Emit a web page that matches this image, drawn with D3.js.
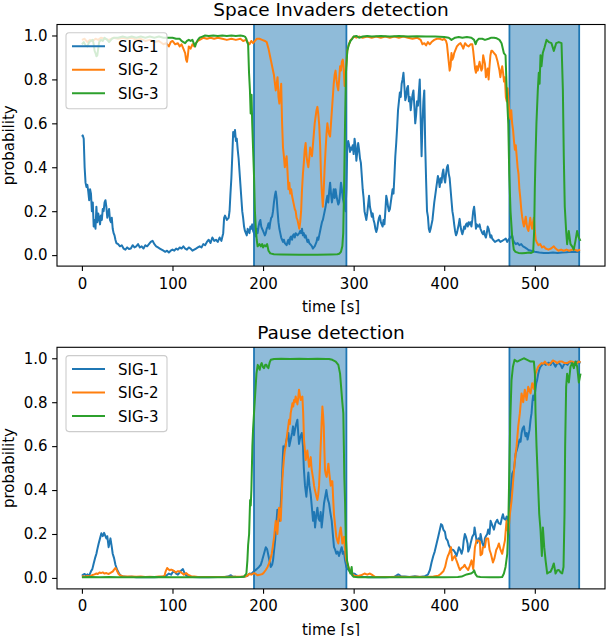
<!DOCTYPE html>
<html>
<head>
<meta charset="utf-8">
<script src="https://cdn.jsdelivr.net/npm/d3@7"></script>
<style>
  body { margin: 0; background: #fff; }
  svg { display: block; font-family: 'DejaVu Sans', sans-serif; }
</style>
</head>
<body>
<div id="chart"></div>
<script>
// values, [time s, probability]
const seriesNames = ["SIG-1", "SIG-2", "SIG-3"];
const panelTitles = ["Space Invaders detection", "Pause detection"];
const xTicks = [0, 100, 200, 300, 400, 500];
const yTicks = [0.0, 0.2, 0.4, 0.6, 0.8, 1.0];
const spans = [[190, 292], [472, 549]];

const siSig1 = [[0,0.54],[1,0.545],[2,0.53],[3,0.40],[4,0.33],[5,0.31],[6,0.32],[7,0.29],[8,0.25],[9,0.30],[10,0.28],[11,0.20],[12,0.24],[13,0.13],[14,0.16],[15,0.12],[16,0.22],[17,0.15],[18,0.19],[19,0.17],[20,0.14],[21,0.18],[22,0.16],[23,0.21],[24,0.20],[25,0.24],[26,0.25],[27,0.22],[28,0.17],[29,0.19],[30,0.21],[31,0.16],[32,0.15],[33,0.17],[34,0.12],[35,0.10],[36,0.09],[37,0.07],[38,0.055],[40,0.05],[42,0.04],[44,0.045],[46,0.03],[48,0.025],[50,0.035],[52,0.028],[54,0.03],[56,0.045],[58,0.035],[60,0.04],[62,0.05],[64,0.035],[66,0.04],[68,0.03],[70,0.045],[72,0.04],[74,0.05],[76,0.06],[78,0.065],[80,0.05],[82,0.04],[84,0.035],[86,0.03],[88,0.025],[90,0.02],[92,0.015],[94,0.02],[96,0.012],[98,0.02],[100,0.025],[102,0.02],[104,0.03],[106,0.025],[108,0.035],[110,0.03],[112,0.04],[114,0.03],[116,0.025],[118,0.035],[120,0.03],[122,0.02],[124,0.025],[126,0.03],[128,0.035],[130,0.04],[132,0.035],[134,0.05],[136,0.045],[138,0.06],[140,0.07],[142,0.055],[144,0.08],[146,0.065],[148,0.07],[150,0.06],[152,0.08],[154,0.065],[156,0.1],[157,0.17],[158,0.18],[160,0.16],[162,0.17],[163,0.2],[164,0.28],[165,0.35],[166,0.45],[167,0.56],[168,0.54],[169,0.57],[170,0.52],[171,0.53],[172,0.48],[173,0.44],[174,0.38],[175,0.32],[176,0.26],[177,0.2],[178,0.17],[179,0.13],[180,0.11],[181,0.1],[182,0.09],[183,0.12],[184,0.11],[185,0.1],[186,0.13],[187,0.12],[188,0.14],[189,0.11],[190,0.1],[191,0.09],[192,0.085],[193,0.12],[194,0.1],[195,0.13],[196,0.15],[197,0.16],[198,0.13],[199,0.12],[200,0.11],[201,0.1],[202,0.09],[203,0.1],[204,0.12],[205,0.13],[206,0.145],[207,0.12],[208,0.15],[209,0.17],[210,0.175],[211,0.2],[212,0.24],[213,0.27],[214,0.29],[215,0.26],[216,0.2],[217,0.15],[218,0.12],[219,0.1],[220,0.08],[221,0.07],[222,0.06],[223,0.07],[224,0.055],[225,0.05],[226,0.045],[227,0.06],[228,0.07],[229,0.05],[230,0.08],[231,0.085],[232,0.07],[233,0.09],[234,0.095],[235,0.08],[236,0.1],[238,0.09],[240,0.1],[241,0.11],[242,0.1],[243,0.12],[244,0.09],[245,0.1],[246,0.08],[247,0.09],[248,0.075],[249,0.06],[250,0.07],[251,0.055],[252,0.05],[253,0.045],[254,0.04],[255,0.03],[256,0.035],[257,0.04],[258,0.05],[259,0.06],[260,0.08],[261,0.07],[262,0.09],[263,0.11],[264,0.13],[265,0.15],[266,0.16],[267,0.18],[268,0.2],[269,0.22],[270,0.25],[271,0.27],[272,0.24],[273,0.29],[274,0.33],[275,0.28],[276,0.24],[277,0.27],[278,0.3],[279,0.26],[280,0.3],[281,0.27],[282,0.25],[283,0.23],[284,0.24],[285,0.28],[286,0.33],[287,0.3],[288,0.26],[289,0.24],[290,0.22],[291,0.2],[292,0.3],[293,0.5],[294,0.52],[295,0.5],[296,0.47],[297,0.49],[298,0.48],[299,0.5],[300,0.46],[301,0.53],[302,0.5],[303,0.43],[304,0.47],[305,0.51],[306,0.48],[307,0.44],[308,0.42],[309,0.36],[310,0.3],[311,0.26],[312,0.2],[313,0.18],[314,0.16],[315,0.19],[316,0.23],[317,0.27],[318,0.22],[319,0.2],[320,0.175],[321,0.19],[322,0.16],[323,0.145],[324,0.12],[325,0.105],[326,0.12],[327,0.15],[328,0.17],[329,0.18],[330,0.15],[331,0.14],[332,0.13],[333,0.16],[334,0.14],[335,0.2],[336,0.27],[337,0.25],[338,0.22],[339,0.2],[340,0.21],[341,0.24],[342,0.27],[343,0.3],[344,0.28],[345,0.36],[346,0.45],[347,0.51],[348,0.58],[349,0.66],[350,0.7],[351,0.74],[352,0.72],[353,0.78],[354,0.8],[355,0.83],[356,0.77],[357,0.705],[358,0.72],[359,0.76],[360,0.77],[361,0.7],[362,0.72],[363,0.66],[364,0.7],[365,0.73],[366,0.75],[367,0.68],[368,0.6],[369,0.64],[370,0.7],[371,0.68],[372,0.74],[373,0.8],[374,0.62],[375,0.45],[376,0.6],[377,0.7],[378,0.75],[379,0.5],[380,0.34],[381,0.2],[382,0.175],[383,0.12],[384,0.105],[385,0.12],[386,0.14],[387,0.16],[388,0.2],[389,0.24],[390,0.27],[391,0.3],[392,0.33],[393,0.36],[394,0.34],[395,0.31],[396,0.35],[397,0.33],[398,0.37],[399,0.39],[400,0.35],[401,0.33],[402,0.37],[403,0.4],[404,0.41],[405,0.37],[406,0.35],[407,0.3],[408,0.25],[409,0.2],[410,0.175],[411,0.14],[412,0.11],[413,0.09],[414,0.1],[415,0.12],[416,0.14],[417,0.165],[418,0.13],[419,0.11],[420,0.095],[421,0.11],[422,0.13],[423,0.12],[424,0.14],[425,0.145],[426,0.13],[427,0.15],[428,0.14],[429,0.15],[430,0.13],[431,0.16],[432,0.2],[433,0.22],[434,0.18],[435,0.12],[436,0.14],[437,0.13],[438,0.13],[439,0.14],[440,0.12],[441,0.11],[442,0.1],[443,0.095],[444,0.11],[445,0.09],[446,0.08],[447,0.1],[448,0.13],[449,0.12],[450,0.1],[451,0.08],[452,0.09],[453,0.075],[454,0.07],[455,0.065],[456,0.06],[458,0.065],[460,0.07],[462,0.06],[464,0.065],[466,0.07],[468,0.075],[469.5,0.06],[471,0.07],[473,0.08],[475,0.09],[476,0.07],[477,0.06],[479,0.05],[481,0.055],[483,0.045],[485,0.05],[487,0.04],[489,0.035],[491,0.03],[493,0.023],[496,0.02],[500,0.015],[505,0.012],[510,0.01],[515,0.01],[520,0.012],[525,0.01],[530,0.012],[535,0.013],[540,0.015],[545,0.014],[550,0.015]];

const siSig2 = [[0,0.98],[3,0.985],[6,0.97],[9,0.98],[12,0.975],[15,0.985],[18,0.98],[21,0.99],[25,0.985],[30,0.98],[35,0.99],[40,0.985],[45,0.99],[50,0.985],[55,0.99],[60,0.98],[65,0.985],[70,0.975],[75,0.98],[80,0.97],[85,0.975],[90,0.96],[93,0.965],[96,0.95],[98,0.97],[100,0.975],[103,0.96],[106,0.965],[108,0.95],[110,0.96],[112,0.94],[114,0.92],[115,0.89],[116,0.88],[117,0.91],[118,0.95],[120,0.94],[122,0.96],[124,0.95],[126,0.965],[128,0.975],[130,0.98],[132,0.985],[134,0.99],[138,0.985],[142,0.99],[146,0.985],[150,0.99],[155,0.985],[160,0.98],[165,0.985],[170,0.98],[175,0.985],[178,0.975],[181,0.98],[183,0.97],[185,0.96],[187,0.975],[189,0.965],[191,0.975],[193,0.985],[196,0.985],[199,0.98],[202,0.975],[204,0.97],[206,0.94],[208,0.9],[210,0.86],[212,0.82],[214,0.75],[216,0.81],[217,0.72],[218,0.69],[219,0.74],[220,0.78],[221,0.6],[222,0.49],[223,0.45],[224,0.40],[225,0.43],[226,0.45],[227,0.38],[228,0.3],[229,0.33],[230,0.28],[231,0.3],[232,0.27],[233,0.25],[234,0.23],[235,0.21],[236,0.2],[237,0.17],[238,0.16],[239,0.14],[240,0.12],[241,0.15],[242,0.2],[243,0.3],[244,0.37],[245,0.42],[246,0.48],[247,0.51],[248,0.45],[249,0.42],[250,0.4],[251,0.44],[252,0.49],[253,0.47],[254,0.45],[255,0.5],[256,0.55],[257,0.6],[258,0.63],[259,0.66],[260,0.675],[261,0.64],[262,0.59],[263,0.5],[264,0.36],[265,0.28],[266,0.22],[267,0.3],[268,0.4],[269,0.48],[270,0.55],[271,0.6],[272,0.57],[273,0.55],[274,0.54],[275,0.6],[276,0.66],[277,0.72],[278,0.78],[279,0.82],[280,0.84],[281,0.8],[282,0.77],[283,0.75],[284,0.8],[285,0.86],[286,0.84],[287,0.88],[288,0.89],[289,0.85],[290,0.77],[291,0.82],[292,0.88],[293,0.93],[294,0.95],[295,0.96],[296,0.975],[297,0.98],[298,0.985],[300,0.995],[303,0.99],[306,0.995],[310,0.99],[315,0.995],[320,0.99],[325,0.995],[330,0.99],[335,0.995],[340,0.99],[345,0.995],[350,0.99],[355,0.995],[360,0.99],[365,0.985],[370,0.99],[374,0.98],[376,0.96],[378,0.965],[380,0.955],[382,0.97],[384,0.96],[386,0.97],[389,0.98],[392,0.985],[395,0.985],[398,0.98],[400,0.985],[402,0.975],[403,0.96],[404,0.92],[405,0.88],[406,0.84],[407,0.86],[408,0.92],[409,0.89],[410,0.9],[411,0.92],[412,0.93],[414,0.95],[416,0.96],[418,0.965],[420,0.95],[421,0.94],[423,0.965],[425,0.955],[427,0.95],[429,0.96],[431,0.96],[432,0.93],[433,0.89],[434,0.85],[435,0.83],[436,0.86],[437,0.84],[438,0.86],[439,0.88],[440,0.86],[441,0.84],[442,0.85],[443,0.91],[444,0.89],[445,0.87],[446,0.81],[447,0.83],[448,0.85],[449,0.8],[450,0.86],[451,0.91],[452,0.93],[453,0.93],[455,0.92],[457,0.91],[459,0.88],[460,0.86],[461,0.84],[462,0.81],[463,0.84],[464,0.86],[465,0.83],[466,0.79],[467,0.81],[468,0.72],[469,0.7],[470,0.76],[471,0.7],[472,0.645],[473,0.62],[474,0.66],[475,0.6],[476,0.57],[477,0.52],[478,0.48],[479,0.5],[480,0.45],[481,0.4],[482,0.37],[483,0.3],[484,0.26],[485,0.21],[486,0.175],[487,0.15],[488,0.13],[489,0.15],[490,0.175],[491,0.14],[492,0.12],[493,0.11],[494,0.14],[495,0.17],[496,0.14],[497,0.12],[498,0.15],[499,0.17],[500,0.11],[501,0.07],[502,0.06],[504,0.045],[506,0.05],[508,0.035],[510,0.04],[512,0.03],[515,0.025],[518,0.03],[521,0.04],[523,0.03],[526,0.02],[529,0.025],[532,0.02],[535,0.025],[538,0.02],[541,0.025],[544,0.025],[547,0.02],[550,0.025]];

const siSig3 = [[0,0.96],[2,0.97],[4,0.955],[6,0.95],[8,0.97],[10,0.975],[12,0.98],[13,0.96],[14,0.93],[15,0.92],[16,0.905],[17,0.91],[18,0.94],[19,0.97],[21,0.98],[23,0.975],[25,0.99],[28,0.98],[30,0.97],[33,0.985],[36,0.99],[40,0.99],[45,0.995],[50,0.99],[55,0.995],[60,0.99],[65,0.995],[70,0.99],[75,0.995],[80,0.99],[85,0.995],[90,0.99],[95,0.99],[100,0.99],[104,0.985],[108,0.985],[110,0.975],[112,0.97],[114,0.965],[116,0.975],[118,0.98],[120,0.975],[122,0.98],[124,0.96],[125,0.95],[126,0.965],[128,0.98],[130,0.99],[133,0.995],[136,1.0],[140,0.998],[145,1.0],[150,0.998],[155,1.0],[160,0.998],[165,1.0],[170,0.998],[175,1.0],[178,0.998],[180,0.995],[181.5,0.985],[182.5,0.97],[183.5,0.96],[184.5,0.83],[185.5,0.75],[186.3,0.645],[187.3,0.73],[188,0.6],[189,0.48],[190,0.36],[191,0.2],[192,0.12],[193,0.07],[194,0.04],[195,0.045],[196,0.05],[197.5,0.04],[199,0.05],[200,0.035],[201.5,0.045],[203,0.04],[204.5,0.05],[206,0.02],[208,0.008],[212,0.004],[220,0.003],[240,0.002],[260,0.002],[275,0.003],[282,0.004],[284,0.006],[286,0.015],[287.5,0.04],[288.5,0.1],[289.4,0.3],[290.5,0.6],[291.5,0.83],[293,0.93],[294.8,0.96],[296.5,0.975],[298.6,0.986],[300,0.995],[303,0.998],[306,0.99],[310,0.995],[315,0.998],[320,0.995],[330,0.998],[340,0.995],[350,0.998],[360,0.995],[370,0.997],[380,0.995],[390,0.995],[400,0.993],[405,0.99],[408,0.98],[412,0.99],[416,0.993],[420,0.99],[425,0.993],[430,0.99],[433,0.98],[434.6,0.96],[436,0.975],[438,0.985],[442,0.985],[445,0.98],[449,0.985],[452,0.99],[455,0.99],[458,0.987],[461,0.98],[463.3,0.965],[465.8,0.92],[467.7,0.91],[469,0.75],[470.7,0.6],[471.8,0.37],[473.2,0.2],[475,0.085],[476.8,0.025],[478.7,0.015],[482,0.01],[486,0.008],[490,0.01],[493.4,0.012],[496,0.01],[498.2,0.015],[499.3,0.11],[500,0.3],[500.8,0.45],[501.8,0.6],[503.3,0.75],[504.4,0.83],[505.3,0.78],[506.3,0.91],[507.4,0.86],[508.8,0.92],[510.7,0.945],[513,0.98],[515.5,0.97],[518.4,0.965],[521,0.93],[523.6,0.965],[526.5,0.97],[529.5,0.965],[531,0.75],[532,0.45],[533.1,0.22],[534.6,0.11],[535.7,0.05],[537.5,0.11],[539.4,0.05],[541.2,0.04],[543,0.025],[544.9,0.065],[546.7,0.11],[548.5,0.08],[550.4,0.065]];

const paSig1 = [[0,0.01],[1.5,0.015],[3,0.018],[4.5,0.01],[6,0.016],[8,0.01],[10,0.03],[11.5,0.04],[13,0.066],[14.5,0.09],[16,0.11],[17,0.13],[18.5,0.157],[20,0.18],[21.5,0.203],[23,0.19],[24.5,0.205],[25.5,0.195],[27,0.18],[28,0.19],[29.5,0.14],[30.5,0.16],[31.5,0.18],[33,0.14],[34,0.11],[35.5,0.09],[37,0.06],[39,0.036],[41,0.02],[43,0.01],[46,0.006],[50,0.004],[55,0.005],[60,0.003],[65,0.004],[70,0.003],[75,0.004],[80,0.003],[85,0.004],[90,0.005],[93,0.01],[96,0.02],[98.5,0.015],[100,0.025],[102,0.03],[104,0.02],[106,0.015],[108,0.025],[110,0.035],[111.5,0.04],[113,0.025],[115,0.012],[118,0.005],[122,0.004],[130,0.003],[140,0.003],[150,0.004],[158,0.004],[162,0.008],[164.5,0.012],[166,0.007],[170,0.005],[175,0.004],[180,0.006],[183,0.01],[185,0.02],[187,0.018],[190,0.03],[193,0.04],[195.5,0.05],[197.5,0.06],[199,0.08],[201,0.11],[203,0.14],[204.5,0.13],[206,0.1],[208.5,0.05],[210,0.06],[211,0.08],[212,0.12],[213.3,0.17],[214.5,0.24],[215.8,0.31],[217,0.28],[218.4,0.26],[219.5,0.33],[220.6,0.42],[221.5,0.52],[222.4,0.6],[223.5,0.58],[225,0.61],[226.5,0.64],[228,0.66],[229,0.6],[230.5,0.63],[232,0.66],[233.1,0.69],[234.2,0.65],[235.3,0.675],[236.5,0.7],[237.9,0.72],[238.8,0.66],[239.7,0.61],[241,0.64],[242.7,0.66],[244.1,0.6],[245,0.5],[246.3,0.42],[247.8,0.37],[249,0.43],[250,0.48],[251.2,0.42],[252.6,0.38],[253.9,0.32],[255.2,0.26],[256.3,0.3],[257.4,0.23],[258.6,0.28],[260,0.32],[261.2,0.27],[262.5,0.26],[263.6,0.3],[264.7,0.23],[266,0.28],[267.3,0.34],[268.6,0.37],[269.9,0.40],[271.3,0.36],[272.8,0.34],[274.2,0.3],[275.8,0.26],[277,0.2],[278.3,0.14],[279.5,0.13],[280.9,0.11],[282.4,0.12],[283.8,0.1],[285.3,0.12],[286.8,0.14],[288,0.11],[289.4,0.12],[290.5,0.08],[292,0.05],[293.5,0.04],[294.9,0.035],[296.5,0.025],[298.6,0.012],[300,0.02],[301.5,0.018],[303,0.012],[305.2,0.008],[310,0.005],[316,0.003],[325,0.004],[335,0.003],[345,0.005],[349.3,0.016],[352,0.008],[356.6,0.006],[362,0.004],[367.7,0.008],[373,0.004],[378.7,0.008],[382,0.015],[384.2,0.036],[386,0.07],[387.9,0.1],[389.5,0.12],[391.6,0.157],[393.5,0.19],[395.2,0.22],[396.5,0.245],[397.8,0.24],[399,0.22],[400.8,0.21],[402,0.18],[403.7,0.17],[405,0.15],[406.3,0.14],[408,0.13],[410,0.127],[411.5,0.12],[413.6,0.1],[415,0.12],[416.2,0.14],[417.5,0.13],[419.2,0.11],[420.5,0.13],[421.5,0.17],[422.8,0.2],[424,0.187],[425.8,0.157],[426.5,0.12],[428.3,0.14],[429.1,0.157],[431,0.187],[432.8,0.2],[433.5,0.23],[435.7,0.17],[436.5,0.16],[438,0.18],[439.4,0.17],[440.1,0.2],[441.9,0.16],[443.8,0.14],[444.9,0.18],[446,0.19],[447.5,0.2],[448.5,0.22],[450,0.2],[451.2,0.26],[453,0.24],[454.9,0.22],[456.5,0.25],[458.5,0.265],[460,0.25],[462.2,0.245],[463.5,0.27],[464.8,0.29],[466,0.27],[467.7,0.265],[469,0.28],[470.7,0.26],[472,0.3],[472.9,0.35],[474,0.42],[475.1,0.475],[476.9,0.49],[478,0.53],[478.8,0.565],[480,0.58],[481.3,0.6],[483.2,0.63],[484.3,0.62],[485.4,0.66],[486.5,0.68],[488,0.69],[489,0.66],[489.8,0.645],[491,0.66],[492,0.63],[493,0.65],[494.2,0.675],[495.3,0.72],[496.4,0.75],[497.3,0.8],[498.2,0.83],[499,0.81],[500.1,0.84],[501.6,0.886],[502.5,0.9],[503.8,0.93],[505,0.95],[506.3,0.962],[508,0.97],[510,0.978],[512,0.97],[513.7,0.975],[515.5,0.98],[517.5,0.97],[519.2,0.985],[521,0.975],[522.9,0.962],[524.5,0.975],[526.6,0.978],[528.5,0.97],[530.2,0.955],[532,0.97],[533.9,0.978],[536,0.97],[537.5,0.98],[539.4,0.985],[541,0.975],[543.1,0.975],[545,0.98],[546.8,0.985],[548.5,0.98],[550.5,0.982]];

const paSig2 = [[0,0.008],[3,0.006],[6,0.009],[9,0.007],[11,0.012],[13.9,0.016],[16,0.02],[17.5,0.018],[19.5,0.025],[21,0.022],[23,0.025],[25,0.02],[27,0.022],[29,0.018],[30.5,0.02],[32,0.024],[34.2,0.03],[35.5,0.038],[37,0.045],[37.9,0.04],[39,0.03],[40.5,0.018],[42,0.012],[45.2,0.008],[50,0.006],[55,0.007],[60,0.005],[65,0.006],[70,0.004],[75,0.005],[80,0.004],[85,0.006],[89,0.006],[91.2,0.01],[92.5,0.03],[94.1,0.045],[95.5,0.04],[96.7,0.035],[98.5,0.038],[100.4,0.035],[102,0.03],[104,0.025],[105.5,0.03],[107.7,0.03],[109.5,0.025],[111,0.02],[112.5,0.015],[114,0.02],[115,0.022],[117,0.015],[120.6,0.008],[124,0.006],[128,0.004],[135,0.004],[145,0.004],[155,0.004],[165,0.005],[175,0.005],[180,0.006],[182.5,0.01],[184.6,0.018],[187,0.015],[190,0.022],[192,0.018],[193.8,0.012],[196,0.014],[199.3,0.018],[201,0.025],[203,0.036],[205,0.05],[206.6,0.066],[208,0.085],[209.6,0.11],[211,0.15],[212.2,0.187],[213.2,0.23],[214,0.26],[215,0.22],[215.8,0.2],[216.8,0.27],[217.7,0.32],[218.6,0.29],[219.5,0.26],[220.4,0.35],[221.3,0.446],[222.2,0.5],[223.2,0.55],[224,0.58],[225,0.6],[225.9,0.63],[226.8,0.66],[227.8,0.69],[228.7,0.72],[229.6,0.7],[230.5,0.75],[231.4,0.77],[232.4,0.795],[233.3,0.78],[234.2,0.81],[235.1,0.8],[236,0.826],[236.9,0.81],[237.9,0.79],[238.8,0.82],[239.7,0.857],[240.7,0.83],[241.6,0.81],[242.5,0.82],[243.4,0.826],[244.3,0.75],[245.2,0.63],[246.2,0.58],[247.1,0.537],[248,0.56],[248.9,0.58],[249.9,0.54],[250.8,0.506],[251.7,0.53],[252.6,0.55],[253.5,0.5],[254.4,0.475],[255.4,0.45],[256.3,0.42],[257.2,0.4],[258.1,0.385],[259,0.37],[260,0.355],[260.9,0.38],[261.8,0.42],[262.7,0.5],[263.6,0.6],[264.6,0.7],[265.5,0.78],[266.3,0.74],[267,0.69],[267.7,0.58],[268.4,0.49],[269.3,0.47],[270.2,0.46],[271.2,0.49],[272.1,0.52],[273.3,0.47],[274.7,0.42],[275.6,0.44],[276.5,0.44],[277.4,0.36],[278.3,0.29],[279.5,0.24],[280.9,0.187],[282,0.17],[283.1,0.157],[284.4,0.2],[285.7,0.23],[286.6,0.2],[287.5,0.157],[288.5,0.17],[289.4,0.187],[290.3,0.14],[291.2,0.1],[292,0.08],[293,0.066],[294.3,0.05],[295.6,0.036],[297,0.025],[298.6,0.018],[301,0.01],[304,0.008],[308,0.012],[312,0.02],[315,0.015],[318,0.02],[320,0.015],[323.5,0.005],[330,0.004],[340,0.004],[350,0.005],[360,0.004],[370,0.005],[380,0.004],[388,0.006],[393.4,0.01],[396,0.018],[399,0.03],[401,0.05],[402.6,0.08],[404,0.1],[405.2,0.11],[406.3,0.125],[407.4,0.14],[408.8,0.08],[410,0.09],[411.8,0.1],[413,0.085],[414.7,0.066],[416,0.05],[417.3,0.036],[419,0.045],[421,0.05],[422.5,0.06],[423.6,0.05],[424.7,0.045],[426.5,0.036],[428.3,0.056],[430.2,0.08],[432,0.04],[433.9,0.14],[435.7,0.17],[437.6,0.17],[439.4,0.165],[440.1,0.103],[441.9,0.11],[442.7,0.14],[444.9,0.14],[446.4,0.18],[448.5,0.18],[450.1,0.127],[451.5,0.11],[453.8,0.07],[455.5,0.09],[457.4,0.127],[459,0.14],[460.4,0.157],[462,0.13],[464,0.11],[465.5,0.14],[467,0.17],[468.8,0.26],[470.7,0.2],[472.5,0.29],[474.3,0.35],[476.2,0.446],[478,0.537],[479.9,0.6],[481.7,0.69],[483.5,0.75],[485.4,0.84],[487.2,0.8],[489,0.857],[490.9,0.81],[492.7,0.87],[495.3,0.84],[497.1,0.886],[499,0.86],[500.8,0.93],[503.8,0.962],[505.5,0.97],[507.4,0.978],[509.5,0.975],[511.1,0.985],[513,0.975],[515.5,0.97],[518,0.98],[520,0.99],[522.5,0.985],[524.7,0.978],[527,0.985],[530.2,0.985],[533,0.978],[535.7,0.978],[538.5,0.985],[541.3,0.985],[544,0.98],[546.8,0.978],[548.5,0.985],[550.5,0.982]];

const paSig3 = [[0,0.003],[10,0.004],[20,0.003],[30,0.004],[40,0.003],[60,0.003],[80,0.004],[100,0.003],[120,0.003],[140,0.003],[160,0.003],[175,0.004],[179,0.005],[180.2,0.013],[181.6,0.02],[182.7,0.08],[183.5,0.15],[184.6,0.2],[185.7,0.355],[186.4,0.33],[187.1,0.4],[188.2,0.6],[189,0.68],[190,0.75],[191.2,0.83],[192.7,0.93],[194.1,0.97],[195.2,0.96],[196.3,0.948],[197.4,0.97],[198.5,0.978],[199.8,0.96],[201.1,0.955],[202.4,0.97],[203.7,0.97],[204.8,0.96],[205.9,0.955],[207.2,0.98],[208.5,0.993],[212.2,0.997],[220,0.998],[230,0.997],[240,0.998],[250,0.997],[260,0.998],[270,0.997],[272.8,0.997],[276.5,0.993],[280.2,0.985],[283.1,0.97],[285,0.93],[286.4,0.857],[287.5,0.8],[288.6,0.75],[289.2,0.6],[289.7,0.46],[290.5,0.35],[291.2,0.2],[292.7,0.08],[294.9,0.036],[296.5,0.02],[297.8,0.05],[298.6,0.012],[300,0.005],[305,0.003],[320,0.003],[340,0.003],[360,0.003],[380,0.003],[400,0.003],[415,0.004],[419.2,0.006],[424.7,0.016],[429.4,0.02],[431.5,0.025],[433,0.035],[434.6,0.016],[436.5,0.006],[440,0.004],[450,0.003],[460,0.003],[464,0.004],[465.9,0.02],[467.7,0.05],[469.6,0.11],[470.7,0.23],[471.8,0.475],[472.9,0.72],[474.3,0.9],[475.8,0.96],[477.7,0.993],[480.6,0.985],[484.3,0.993],[487.9,1.0],[491.6,0.993],[495.3,0.985],[499,0.985],[500.1,0.93],[500.8,0.75],[501.9,0.6],[503.4,0.446],[504.9,0.29],[506.3,0.22],[507.8,0.1],[508.9,0.23],[510.4,0.14],[511.9,0.08],[513.7,0.02],[515.5,0.025],[517.4,0.028],[519.2,0.045],[521,0.066],[522.9,0.02],[524.8,0.035],[526.6,0.036],[528.5,0.025],[530.2,0.02],[531.7,0.05],[532.8,0.29],[533.5,0.6],[534.6,0.87],[535.7,0.93],[537.6,0.89],[539.4,0.962],[541.3,0.978],[543.1,0.955],[544.9,0.985],[546.8,0.962],[548.6,0.89],[550.5,0.93]];

const panels = [
    { title: panelTitles[0], series: [siSig1, siSig2, siSig3] },
    { title: panelTitles[1], series: [paSig1, paSig2, paSig3] }
];

const colors = ["#1f77b4", "#ff7f0e", "#2ca02c"];
const W = 606, H = 636;
const axLeft = 57, axRight = 605;
const axTops = [24.5, 347.3];
const axHeight = 241.6;
const fontSize = 15;

const svg = d3.select("#chart")
    .append("svg")
    .attr("width", W)
    .attr("height", H)
    .attr("viewBox", `0 0 ${W} ${H}`);

const x = d3.scaleLinear()
    .domain([-27.5, 577.5])
    .range([axLeft, axRight]);

panels.forEach((panel, pi) => {
    const top = axTops[pi];
    const bottom = top + axHeight;

    const y = d3.scaleLinear()
        .domain([-0.05, 1.05])
        .range([bottom, top]);

    const g = svg.append("g");

    const clipId = "clip-" + pi;
    g.append("clipPath")
        .attr("id", clipId)
        .append("rect")
        .attr("x", axLeft)
        .attr("y", top)
        .attr("width", axRight - axLeft)
        .attr("height", axHeight);

    // shaded spans
    g.selectAll(".span")
        .data(spans)
        .enter()
        .append("rect")
        .attr("class", "span")
        .attr("x", d => x(d[0]))
        .attr("y", top)
        .attr("width", d => x(d[1]) - x(d[0]))
        .attr("height", axHeight)
        .attr("fill", "#1f77b4")
        .attr("fill-opacity", 0.5);

    const edges = spans.flat();
    g.selectAll(".span-edge")
        .data(edges)
        .enter()
        .append("line")
        .attr("class", "span-edge")
        .attr("x1", d => x(d))
        .attr("x2", d => x(d))
        .attr("y1", top)
        .attr("y2", bottom)
        .attr("stroke", "#1f77b4")
        .attr("stroke-width", 1.8);

    // lines
    const line = d3.line()
        .x(d => x(d[0]))
        .y(d => y(d[1]));

    panel.series.forEach((s, si) => {
        g.append("path")
            .datum(s)
            .attr("fill", "none")
            .attr("stroke", colors[si])
            .attr("stroke-width", 2)
            .attr("stroke-linejoin", "round")
            .attr("clip-path", `url(#${clipId})`)
            .attr("d", line);
    });

    // axes
    const xAxis = d3.axisBottom(x)
        .tickValues(xTicks)
        .tickFormat(d3.format("d"))
        .tickSize(4.9)
        .tickPadding(7);

    const gx = g.append("g")
        .attr("transform", `translate(0,${bottom})`)
        .call(xAxis);

    const yAxis = d3.axisLeft(y)
        .tickValues(yTicks)
        .tickFormat(d3.format(".1f"))
        .tickSize(4.9)
        .tickPadding(4.5);

    const gy = g.append("g")
        .attr("transform", `translate(${axLeft},0)`)
        .call(yAxis);

    [gx, gy].forEach(a => {
        a.select(".domain").remove();
        a.selectAll(".tick line").attr("stroke", "#000").attr("stroke-width", 1.1);
        a.selectAll(".tick text")
            .attr("fill", "#000")
            .style("font-family", "'DejaVu Sans', sans-serif")
            .style("font-size", fontSize + "px");
    });

    // frame
    g.append("rect")
        .attr("x", axLeft)
        .attr("y", top)
        .attr("width", axRight - axLeft)
        .attr("height", axHeight)
        .attr("fill", "none")
        .attr("stroke", "#000")
        .attr("stroke-width", 1.1);

    // title
    g.append("text")
        .attr("x", (axLeft + axRight) / 2)
        .attr("y", top - 8.5)
        .attr("text-anchor", "middle")
        .style("font-size", "18.5px")
        .text(panel.title);

    // axis labels
    g.append("text")
        .attr("x", (axLeft + axRight) / 2)
        .attr("y", bottom + 46)
        .attr("text-anchor", "middle")
        .style("font-size", fontSize + "px")
        .text("time [s]");

    g.append("text")
        .attr("transform", `translate(14,${(top + bottom) / 2}) rotate(-90)`)
        .attr("text-anchor", "middle")
        .style("font-size", fontSize + "px")
        .text("probability");

    // legend
    const lg = g.append("g")
        .attr("transform", `translate(66,${top + 8.3})`);

    lg.append("rect")
        .attr("width", 101)
        .attr("height", 76)
        .attr("rx", 3)
        .attr("fill", "#fff")
        .attr("fill-opacity", 0.8)
        .attr("stroke", "#cccccc")
        .attr("stroke-width", 1.1);

    seriesNames.forEach((name, i) => {
        const ry = 13.5 + i * 23.5;
        lg.append("line")
            .attr("x1", 6)
            .attr("x2", 39)
            .attr("y1", ry)
            .attr("y2", ry)
            .attr("stroke", colors[i])
            .attr("stroke-width", 2);
        lg.append("text")
            .attr("x", 52)
            .attr("y", ry + 5.5)
            .style("font-size", fontSize + "px")
            .text(name);
    });
});
</script>
</body>
</html>
